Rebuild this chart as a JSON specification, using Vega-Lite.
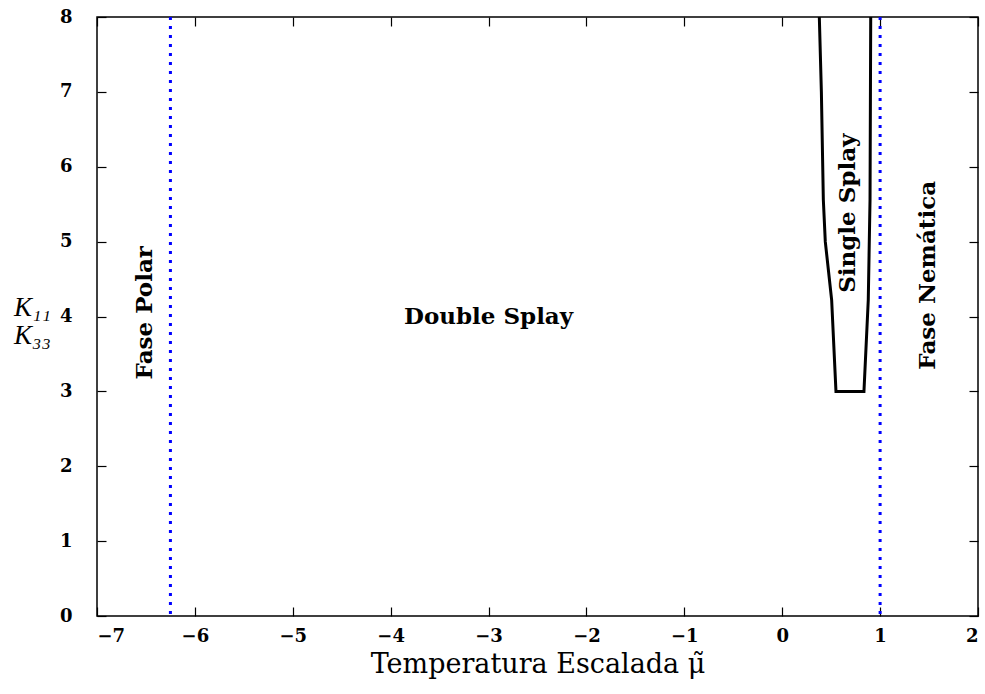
{
  "$schema": "https://vega.github.io/schema/vega-lite/v6.json",
  "width": 881,
  "height": 599,
  "autosize": {"type": "none"},
  "padding": {"left": 97, "top": 17, "right": 7, "bottom": 78},
  "background": "white",
  "config": {
    "view": {"stroke": "black", "strokeWidth": 1.5},
    "axis": {
      "labelFont": "DejaVu Serif",
      "labelFontWeight": "bold",
      "labelFontSize": 18,
      "labelColor": "black",
      "domain": false,
      "grid": false,
      "tickColor": "black",
      "tickSize": -9,
      "tickWidth": 1.2,
      "titleFont": "DejaVu Serif",
      "titleFontWeight": "normal",
      "titleColor": "black"
    }
  },
  "datasets": {
    "boundary": [
      {"mu": 0.379, "k": 8.0, "order": 1},
      {"mu": 0.40, "k": 7.0, "order": 2},
      {"mu": 0.42, "k": 5.56, "order": 3},
      {"mu": 0.44, "k": 5.0, "order": 4},
      {"mu": 0.505, "k": 4.22, "order": 5},
      {"mu": 0.549, "k": 3.0, "order": 6},
      {"mu": 0.835, "k": 3.0, "order": 7},
      {"mu": 0.879, "k": 4.22, "order": 8},
      {"mu": 0.897, "k": 5.56, "order": 9},
      {"mu": 0.904, "k": 8.0, "order": 10}
    ],
    "transitions": [
      {"mu": -6.25, "name": "Polar"},
      {"mu": 1.0, "name": "Nemática"}
    ],
    "labels": [
      {"mu": -3.0, "k": 4.0, "label": "Double Splay", "angle": 0},
      {"mu": -6.51, "k": 4.05, "label": "Fase Polar", "angle": 270},
      {"mu": 0.672, "k": 5.38, "label": "Single Splay", "angle": 270},
      {"mu": 1.49, "k": 4.55, "label": "Fase Nemática", "angle": 270}
    ]
  },
  "layer": [
    {
      "data": {"name": "transitions"},
      "mark": {"type": "rule", "color": "#0000ff", "strokeWidth": 3, "strokeDash": [3, 6]},
      "encoding": {
        "x": {
          "field": "mu", "type": "quantitative",
          "scale": {"domain": [-7, 2], "nice": false, "zero": false},
          "axis": {
            "orient": "bottom", "values": [-7, -6, -5, -4, -3, -2, -1, 0, 1, 2],
            "labelPadding": 20,
            "title": "Temperatura Escalada μ̃",
            "titleFontSize": 27, "titlePadding": 6
          }
        }
      }
    },
    {
      "data": {"name": "boundary"},
      "mark": {"type": "line", "color": "black", "strokeWidth": 3, "clip": true},
      "encoding": {
        "x": {"field": "mu", "type": "quantitative", "scale": {"domain": [-7, 2], "nice": false, "zero": false},
              "axis": {"orient": "top", "values": [-7, -6, -5, -4, -3, -2, -1, 0, 1, 2], "labels": false, "title": null}},
        "y": {"field": "k", "type": "quantitative", "scale": {"domain": [0, 8], "nice": false},
              "axis": {"orient": "right", "values": [0,1,2,3,4,5,6,7,8], "labels": false, "title": null}},
        "order": {"field": "order"}
      }
    },
    {
      "data": {"name": "labels"},
      "mark": {"type": "text", "font": "DejaVu Serif", "fontWeight": "bold", "fontSize": 23, "color": "black", "baseline": "middle", "align": "center"},
      "encoding": {
        "x": {"field": "mu", "type": "quantitative", "scale": {"domain": [-7, 2], "nice": false, "zero": false}, "axis": null},
        "y": {"field": "k", "type": "quantitative", "scale": {"domain": [0, 8], "nice": false},
              "axis": {"orient": "left", "values": [0,1,2,3,4,5,6,7,8], "labelPadding": 34,
                       "title": ["K₁₁", "K₃₃"], "titleAngle": 0, "titleFontSize": 27, "titleFontStyle": "italic",
                       "titleLineHeight": 28,
                       "titleAlign": "center", "titleBaseline": "middle", "titleX": -65, "titleY": 290, "titleFont": "Liberation Serif"}},
        "text": {"field": "label"},
        "angle": {"field": "angle", "type": "quantitative", "scale": null}
      }
    }
  ],
  "resolve": {"axis": {"x": "independent", "y": "independent"}}
}
